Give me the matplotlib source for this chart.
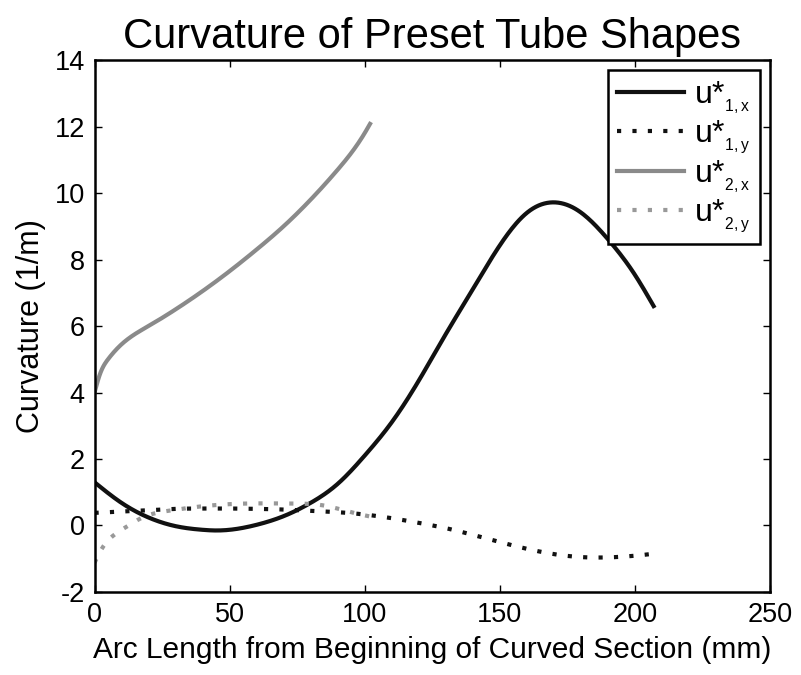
import matplotlib
matplotlib.use("Agg")
import matplotlib.pyplot as plt
import numpy as np

plt.rcParams['font.family'] = ['Liberation Sans', 'DejaVu Sans']
plt.rcParams['mathtext.fontset'] = 'custom'
plt.rcParams['mathtext.rm'] = 'Liberation Sans'
plt.rcParams['mathtext.default'] = 'regular'
plt.rcParams['axes.unicode_minus'] = False

# u*_{1,x}
s1x = [0, 10, 20, 30, 40, 45, 50, 60, 70, 80, 90, 100, 110, 120, 130, 140, 150, 160, 170, 180, 190, 200, 207]
u1x = [1.3, 0.68, 0.24, -0.02, -0.13, -0.15, -0.13, 0.02, 0.28, 0.68, 1.25, 2.1, 3.1, 4.35, 5.75, 7.1, 8.42, 9.4, 9.72, 9.42, 8.62, 7.55, 6.6]
# u*_{1,y}
s1y = [0, 10, 20, 30, 40, 50, 60, 70, 80, 90, 100, 110, 120, 130, 140, 150, 160, 170, 180, 190, 200, 207]
u1y = [0.38, 0.42, 0.46, 0.5, 0.51, 0.51, 0.5, 0.48, 0.44, 0.4, 0.33, 0.22, 0.08, -0.08, -0.28, -0.5, -0.7, -0.86, -0.95, -0.96, -0.91, -0.85]
# u*_{2,x}
s2x = [0, 2, 5, 10, 20, 30, 40, 50, 60, 70, 80, 90, 100, 102]
u2x = [4.0, 4.55, 5.0, 5.45, 6.0, 6.5, 7.05, 7.65, 8.3, 9.0, 9.8, 10.7, 11.8, 12.08]
# u*_{2,y}
s2y = [0, 3, 7, 12, 17, 22, 28, 39, 56, 73, 85, 95, 102]
u2y = [-1.12, -0.66, -0.3, -0.03, 0.21, 0.36, 0.45, 0.57, 0.66, 0.66, 0.6, 0.4, 0.27]

labels = [r'u*$_{_{1,x}}$', r'u*$_{_{1,y}}$', r'u*$_{_{2,x}}$', r'u*$_{_{2,y}}$']


def smooth(x, y, n=400):
    """Natural cubic spline through the read points (for drawing only)."""
    x = np.asarray(x, float); y = np.asarray(y, float)
    k = len(x)
    h = np.diff(x)
    A = np.zeros((k, k)); r = np.zeros(k)
    A[0, 0] = 1; A[-1, -1] = 1
    for i in range(1, k - 1):
        A[i, i-1] = h[i-1]; A[i, i] = 2*(h[i-1] + h[i]); A[i, i+1] = h[i]
        r[i] = 6*((y[i+1]-y[i])/h[i] - (y[i]-y[i-1])/h[i-1])
    M = np.linalg.solve(A, r)
    xs = np.linspace(x[0], x[-1], n)
    idx = np.clip(np.searchsorted(x, xs) - 1, 0, k - 2)
    x0 = x[idx]; x1 = x[idx+1]; hh = h[idx]
    ys = (M[idx]*(x1-xs)**3/(6*hh) + M[idx+1]*(xs-x0)**3/(6*hh)
          + (y[idx]/hh - M[idx]*hh/6)*(x1-xs) + (y[idx+1]/hh - M[idx+1]*hh/6)*(xs-x0))
    return xs, ys


fig = plt.figure(figsize=(8.01, 6.75), dpi=100)
ax = fig.add_axes([0.118, 0.123, 0.843, 0.788])

lw = 3.0
dot = (0, (1, 2.7))
gray = '#8a8a8a'
ax.plot(*smooth(s1x, u1x), color='#111111', lw=lw, label=labels[0])
ax.plot(*smooth(s1y, u1y), color='#111111', lw=lw, linestyle=dot, dash_capstyle='butt', label=labels[1])
ax.plot(*smooth(s2x, u2x), color=gray, lw=lw, label=labels[2])
ax.plot(*smooth(s2y, u2y), color='#999999', lw=lw, linestyle=dot, dash_capstyle='butt', label=labels[3])

ax.set_xlim(0, 250)
ax.set_ylim(-2, 14)
ax.set_xticks([0, 50, 100, 150, 200, 250])
ax.set_yticks(range(-2, 15, 2))
ax.tick_params(direction='in', top=True, right=True, length=5, width=1, labelsize=19.5, pad=7)
for sp in ax.spines.values():
    sp.set_linewidth(1.8)

ax.set_title('Curvature of Preset Tube Shapes', fontsize=30, pad=9)
ax.set_xlabel('Arc Length from Beginning of Curved Section (mm)', fontsize=21.5, labelpad=6)
ax.set_ylabel('Curvature (1/m)', fontsize=22, labelpad=6)

leg = ax.legend(loc='upper right', fontsize=23, frameon=True, fancybox=False, framealpha=1,
                edgecolor='black', handlelength=2.1, borderaxespad=0.3,
                labelspacing=0.08, handletextpad=0.3, borderpad=0.3)
leg.get_frame().set_linewidth(1.8)

fig.savefig('out.png', dpi=100)
